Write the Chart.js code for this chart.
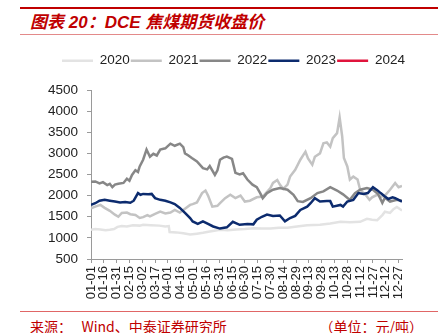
<!DOCTYPE html>
<html>
<head>
<meta charset="utf-8">
<script src="https://cdn.jsdelivr.net/npm/chart.js@4"></script>
<style>
  body { margin: 0; background: #fff; }
  #page { position: relative; width: 443px; height: 333px; overflow: hidden; font-family: 'Liberation Sans', Arial, 'Noto Sans CJK SC', sans-serif; }
  .rule { position: absolute; left: 20px; width: 418px; }
  #title { position: absolute; left: 30px; top: 11px; font-size: 17px; font-weight: bold; font-style: italic; color: #c00000; line-height: 24px; white-space: nowrap; }
  #source { position: absolute; left: 30px; top: 316px; font-size: 14px; color: #c00000; white-space: nowrap; font-family: 'Noto Sans CJK SC', sans-serif; }
  #unit { position: absolute; right: 20px; top: 316px; font-size: 14px; color: #c00000; white-space: nowrap; font-family: 'Noto Sans CJK SC', sans-serif; }
  #chart { position: absolute; left: 0; top: 40px; }
</style>
</head>
<body>
<div id="page">
  <div class="rule" style="top:7px;height:2px;background:#c00000"></div>
  <div id="title">图表 20：DCE 焦煤期货收盘价</div>
  <div class="rule" style="top:34px;height:1px;background:#e38a8a"></div>
  <canvas id="chart" width="443" height="270"></canvas>
  <div class="rule" style="top:311px;height:1px;background:#e06666"></div>
  <div id="source">来源：&nbsp;&nbsp;&nbsp;Wind、中泰证券研究所</div>
  <div id="unit">（单位：元/吨）</div>
</div>
<script>
// x = day of year (0 = 01-01), y = closing price
const tickLabels = ['01-01', '01-16', '01-31', '02-15', '03-02', '03-17', '04-01', '04-16', '05-01',
  '05-16', '05-31', '06-15', '06-30', '07-15', '07-30', '08-14', '08-29', '09-13', '09-28',
  '10-13', '10-28', '11-12', '11-27', '12-12', '12-27'];

const days2020 = [0, 5, 11, 17, 22, 27, 31, 36, 42, 49, 57, 61, 70, 80, 87, 91, 92, 100, 108, 116, 124, 131, 139, 151,
  160, 170, 180, 190, 200, 210, 220, 230, 241, 253, 268, 280, 292, 303, 315, 323, 329, 335, 341, 344, 350, 354, 358, 364];
const close2020 = [1190, 1210, 1200, 1180, 1190, 1210, 1260, 1280, 1270, 1300, 1290, 1310, 1300, 1290, 1270, 1280, 1140, 1130, 1110, 1080, 1100, 1120, 1150, 1190,
  1180, 1200, 1210, 1230, 1220, 1220, 1240, 1240, 1270, 1300, 1310, 1340, 1380, 1370, 1380, 1450, 1430, 1420, 1540, 1620, 1590, 1680, 1730, 1650];

const days2021 = [0, 5, 11, 16, 22, 28, 32, 36, 42, 46, 52, 57, 61, 66, 69, 75, 81, 87, 93, 98, 104, 110, 116, 119, 124, 130,
  134, 137, 142, 148, 151, 157, 163, 169, 175, 180, 186, 194, 201, 210, 213, 218, 221, 225, 230, 233, 239, 245, 251, 254,
  259, 262, 268, 272, 276, 280, 283, 288, 291, 294, 296, 300, 303, 307, 312, 315, 319, 323, 326, 329, 335, 339, 344, 350, 356, 360, 364];
const close2021 = [1700, 1740, 1780, 1710, 1640, 1550, 1500, 1590, 1600, 1560, 1540, 1470, 1490, 1540, 1510, 1570, 1620, 1580, 1600, 1660, 1600, 1690, 1780, 1800, 1840, 2060,
  2120, 2000, 1740, 1760, 1820, 1940, 2020, 1940, 2000, 1860, 1880, 1960, 1980, 2180, 2300, 2370, 2260, 2160, 2260, 2450, 2610, 2850, 3040, 2880,
  2730, 2920, 3000, 3240, 3260, 3160, 3360, 3480, 3850, 3400, 2890, 2690, 2380, 2450, 2380, 2140, 2060, 1980, 1900, 1960, 2020, 1970, 2000, 2140, 2300, 2200, 2230];

const days2022 = [0, 5, 10, 14, 19, 22, 25, 28, 32, 38, 42, 45, 48, 52, 55, 57, 61, 65, 69, 73, 77, 81, 87, 93, 98, 104, 108, 110,
  114, 118, 124, 131, 136, 139, 145, 148, 151, 155, 159, 165, 169, 174, 178, 183, 189, 194, 198, 201, 206, 213, 221, 230,
  237, 242, 248, 257, 265, 272, 280, 288, 295, 303, 309, 315, 323, 330, 336, 341, 344, 350, 358, 364];
const close2022 = [2330, 2335, 2290, 2320, 2250, 2280, 2200, 2260, 2280, 2300, 2400, 2350, 2490, 2600, 2560, 2690, 2850, 3090, 2920, 2990, 2950, 3090, 3120, 3230, 3180, 3230, 3150, 3000,
  2950, 2890, 2810, 2650, 2620, 2700, 2490, 2600, 2850, 2900, 2925, 2870, 2540, 2500, 2530, 2380, 2260, 2200, 2060, 1940, 2060, 2140, 2180, 2140,
  2020, 1870, 1850, 1940, 2060, 2100, 2200, 2120, 2030, 1900, 2060, 2140, 2180, 2140, 2040, 1830, 1950, 1860, 1900, 1880];

const days2023 = [0, 5, 10, 16, 22, 28, 34, 40, 46, 50, 55, 58, 61, 67, 71, 75, 81, 87, 93, 98, 104, 110, 116, 119, 125, 131,
  137, 143, 151, 159, 166, 174, 183, 190, 194, 200, 206, 213, 221, 227, 233, 239, 245, 253, 257, 262, 268, 276, 280, 283,
  292, 295, 300, 307, 313, 319, 324, 330, 335, 339, 344, 348, 353, 356, 360, 364];
const close2023 = [1780, 1820, 1880, 1900, 1880, 1860, 1840, 1850, 1830, 1880, 2060, 2020, 2040, 2030, 2040, 1940, 1900, 1880, 1840, 1800, 1710, 1590, 1470, 1390, 1330, 1390,
  1330, 1270, 1220, 1250, 1380, 1310, 1330, 1320, 1430, 1500, 1550, 1520, 1530, 1390, 1470, 1520, 1660, 1740, 1820, 1940, 1860, 1870, 1870, 1740,
  1780, 1740, 1860, 1900, 2060, 2040, 2060, 2200, 2130, 2060, 1980, 1920, 1960, 1940, 1900, 1860];

const days2024 = [];
const close2024 = [];

const toPoints = (xs, ys) => xs.map((d, i) => ({ x: d, y: ys[i] }));
const fontFamily = "'Liberation Sans', Arial, sans-serif";

// fixed legend height so the plot starts where the reference does,
// and shift the legend row so it sits over the middle of the page
const legendFix = {
  id: 'legendFix',
  afterInit(chart) {
    const fit = chart.legend.fit;
    chart.legend.fit = function () {
      fit.call(this);
      this.height = 37;
    };
  },
  afterLayout(chart) {
    chart.legend.left = 61;
    chart.legend.right = chart.width;
  }
};

function series(label, xs, ys, color, order) {
  return {
    label: label,
    data: toPoints(xs, ys),
    borderColor: color,
    backgroundColor: color,
    borderWidth: 2.5,
    pointRadius: 0,
    tension: 0,
    order: order
  };
}

new Chart(document.getElementById('chart'), {
  type: 'line',
  data: {
    datasets: [
      series('2020', days2020, close2020, '#e3e3e3', 5),
      series('2021', days2021, close2021, '#c3c3c3', 4),
      series('2022', days2022, close2022, '#878787', 3),
      series('2023', days2023, close2023, '#0c2b6e', 2),
      series('2024', days2024, close2024, '#e0143c', 1)
    ]
  },
  options: {
    responsive: false,
    animation: false,
    layout: { padding: { left: 0, right: 41, top: 13, bottom: 0 } },
    plugins: {
      legend: {
        position: 'top',
        align: 'start',
        labels: {
          usePointStyle: true,
          pointStyle: 'line',
          pointStyleWidth: 31,
          padding: 1,
          color: '#222',
          font: { size: 13.5, family: fontFamily },
          sort: (a, b) => a.datasetIndex - b.datasetIndex
        }
      },
      tooltip: { enabled: false }
    },
    scales: {
      x: {
        type: 'linear',
        min: 0,
        max: 364,
        afterFit: (s) => { s.height = 51; },
        border: { display: true, color: '#9a9a9a', width: 1 },
        grid: { drawOnChartArea: false, drawTicks: true, tickLength: 4, color: '#9a9a9a' },
        ticks: {
          stepSize: 15,
          includeBounds: false,
          autoSkip: false,
          minRotation: 90,
          maxRotation: 90,
          padding: 3,
          color: '#222',
          font: { size: 13, family: fontFamily },
          callback: (v) => tickLabels[v / 15]
        }
      },
      y: {
        min: 500,
        max: 4500,
        afterFit: (s) => { s.width = 91; },
        border: { display: true, color: '#9a9a9a', width: 1 },
        grid: { drawOnChartArea: false, drawTicks: true, tickLength: 4, color: '#9a9a9a' },
        ticks: {
          stepSize: 500,
          padding: 9,
          color: '#222',
          font: { size: 13.5, family: fontFamily },
          callback: (v) => String(v)
        }
      }
    }
  },
  plugins: [legendFix]
});
</script>
</body>
</html>
